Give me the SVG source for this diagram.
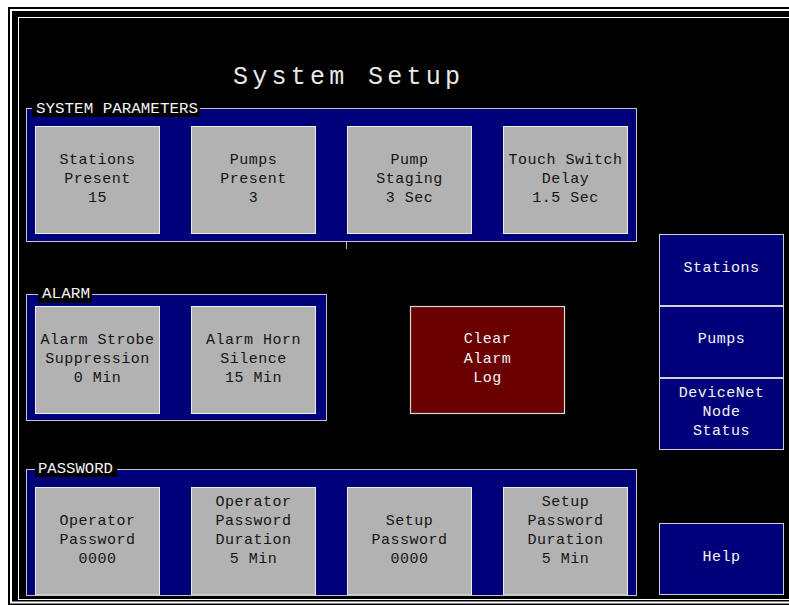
<svg xmlns="http://www.w3.org/2000/svg" width="789" height="605" viewBox="0 0 789 605">
<style>
.grp{fill:#00007a;stroke:#c4c4c4;stroke-width:1}
.lblbg{fill:#000}
.lbl{font-family:"Liberation Mono",monospace;font-size:14px;fill:#f4f4f4}
.btn{fill:#b2b2b2;stroke:#ececec;stroke-width:1}
.bt{font-family:"Liberation Mono",monospace;font-size:15px;letter-spacing:0.5px;fill:#151515;text-anchor:middle}
.nav{fill:#00007a;stroke:#d0d0d0;stroke-width:1}
.wt{font-family:"Liberation Mono",monospace;font-size:15px;letter-spacing:0.5px;fill:#f4f4f4;text-anchor:middle}
.red{fill:#6b0000;stroke:#d8d8d8;stroke-width:1.2}
</style>
<rect x="0" y="0" width="789" height="605" fill="#fff"/>
<rect x="8" y="7" width="800" height="620" fill="#000"/>
<rect x="11" y="10" width="800" height="592.5" fill="none" stroke="#fff" stroke-width="2"/>
<rect x="18.5" y="17.5" width="800" height="582" fill="none" stroke="#fff" stroke-width="1"/>

<g id="title">
<text x="233" y="84" textLength="227" lengthAdjust="spacing" font-family="Liberation Mono, monospace" font-size="25" fill="#e8e8e8">System Setup</text>
</g>

<g id="system-parameters">
<rect class="grp" x="26.5" y="108.5" width="610" height="133"/>
<rect class="lblbg" x="32" y="100" width="168" height="17"/>
<text class="lbl" x="36" y="113" textLength="162" lengthAdjust="spacingAndGlyphs">SYSTEM PARAMETERS</text>
<line x1="346.5" y1="242" x2="346.5" y2="249" stroke="#bbb" stroke-width="1"/>
</g>
<g id="stations-present">
<rect class="btn" x="35.5" y="126.5" width="124" height="107"/>
<text class="bt" x="97.5" y="164">Stations</text>
<text class="bt" x="97.5" y="183">Present</text>
<text class="bt" x="97.5" y="202">15</text>
</g>
<g id="pumps-present">
<rect class="btn" x="191.5" y="126.5" width="124" height="107"/>
<text class="bt" x="253.5" y="164">Pumps</text>
<text class="bt" x="253.5" y="183">Present</text>
<text class="bt" x="253.5" y="202">3</text>
</g>
<g id="pump-staging">
<rect class="btn" x="347.5" y="126.5" width="124" height="107"/>
<text class="bt" x="409.5" y="164">Pump</text>
<text class="bt" x="409.5" y="183">Staging</text>
<text class="bt" x="409.5" y="202">3 Sec</text>
</g>
<g id="touch-switch-delay">
<rect class="btn" x="503.5" y="126.5" width="124" height="107"/>
<text class="bt" x="565.5" y="164">Touch Switch</text>
<text class="bt" x="565.5" y="183">Delay</text>
<text class="bt" x="565.5" y="202">1.5 Sec</text>
</g>

<g id="alarm">
<rect class="grp" x="26.5" y="294.5" width="300" height="126"/>
<rect class="lblbg" x="38" y="285" width="54" height="18"/>
<text class="lbl" x="42" y="298" textLength="48" lengthAdjust="spacingAndGlyphs">ALARM</text>
</g>
<g id="alarm-strobe">
<rect class="btn" x="35.5" y="306.5" width="124" height="107"/>
<text class="bt" x="97.5" y="344">Alarm Strobe</text>
<text class="bt" x="97.5" y="363">Suppression</text>
<text class="bt" x="97.5" y="382">0 Min</text>
</g>
<g id="alarm-horn">
<rect class="btn" x="191.5" y="306.5" width="124" height="107"/>
<text class="bt" x="253.5" y="344">Alarm Horn</text>
<text class="bt" x="253.5" y="363">Silence</text>
<text class="bt" x="253.5" y="382">15 Min</text>
</g>

<g id="clear-alarm-log">
<rect class="red" x="410.5" y="306.5" width="154" height="107"/>
<text class="wt" x="487.5" y="343">Clear</text>
<text class="wt" x="487.5" y="363">Alarm</text>
<text class="wt" x="487.5" y="382">Log</text>
</g>

<g id="password">
<rect class="grp" x="26.5" y="469.5" width="610" height="126"/>
<rect class="lblbg" x="35" y="462" width="82" height="15"/>
<text class="lbl" x="38" y="473" textLength="75" lengthAdjust="spacingAndGlyphs">PASSWORD</text>
</g>
<g id="operator-password">
<rect class="btn" x="35.5" y="487.5" width="124" height="107.5"/>
<text class="bt" x="97.5" y="525">Operator</text>
<text class="bt" x="97.5" y="544">Password</text>
<text class="bt" x="97.5" y="563">0000</text>
</g>
<g id="operator-password-duration">
<rect class="btn" x="191.5" y="487.5" width="124" height="107.5"/>
<text class="bt" x="253.5" y="506">Operator</text>
<text class="bt" x="253.5" y="525">Password</text>
<text class="bt" x="253.5" y="544">Duration</text>
<text class="bt" x="253.5" y="563">5 Min</text>
</g>
<g id="setup-password">
<rect class="btn" x="347.5" y="487.5" width="124" height="107.5"/>
<text class="bt" x="409.5" y="525">Setup</text>
<text class="bt" x="409.5" y="544">Password</text>
<text class="bt" x="409.5" y="563">0000</text>
</g>
<g id="setup-password-duration">
<rect class="btn" x="503.5" y="487.5" width="124" height="107.5"/>
<text class="bt" x="565.5" y="506">Setup</text>
<text class="bt" x="565.5" y="525">Password</text>
<text class="bt" x="565.5" y="544">Duration</text>
<text class="bt" x="565.5" y="563">5 Min</text>
</g>
<line x1="26.5" y1="595.5" x2="636.5" y2="595.5" stroke="#c4c4c4" stroke-width="1"/>

<g id="nav-stations">
<rect class="nav" x="659.5" y="234.5" width="124" height="71"/>
<text class="wt" x="721.5" y="272">Stations</text>
</g>
<g id="nav-pumps">
<rect class="nav" x="659.5" y="306.5" width="124" height="71"/>
<text class="wt" x="721.5" y="343">Pumps</text>
</g>
<g id="nav-devicenet">
<rect class="nav" x="659.5" y="378.5" width="124" height="71"/>
<text class="wt" x="721.5" y="397">DeviceNet</text>
<text class="wt" x="721.5" y="416">Node</text>
<text class="wt" x="721.5" y="435">Status</text>
</g>
<g id="help">
<rect class="nav" x="659.5" y="523.5" width="124" height="71"/>
<text class="wt" x="721.5" y="561">Help</text>
</g>
<g id="connectors"></g>
</svg>
